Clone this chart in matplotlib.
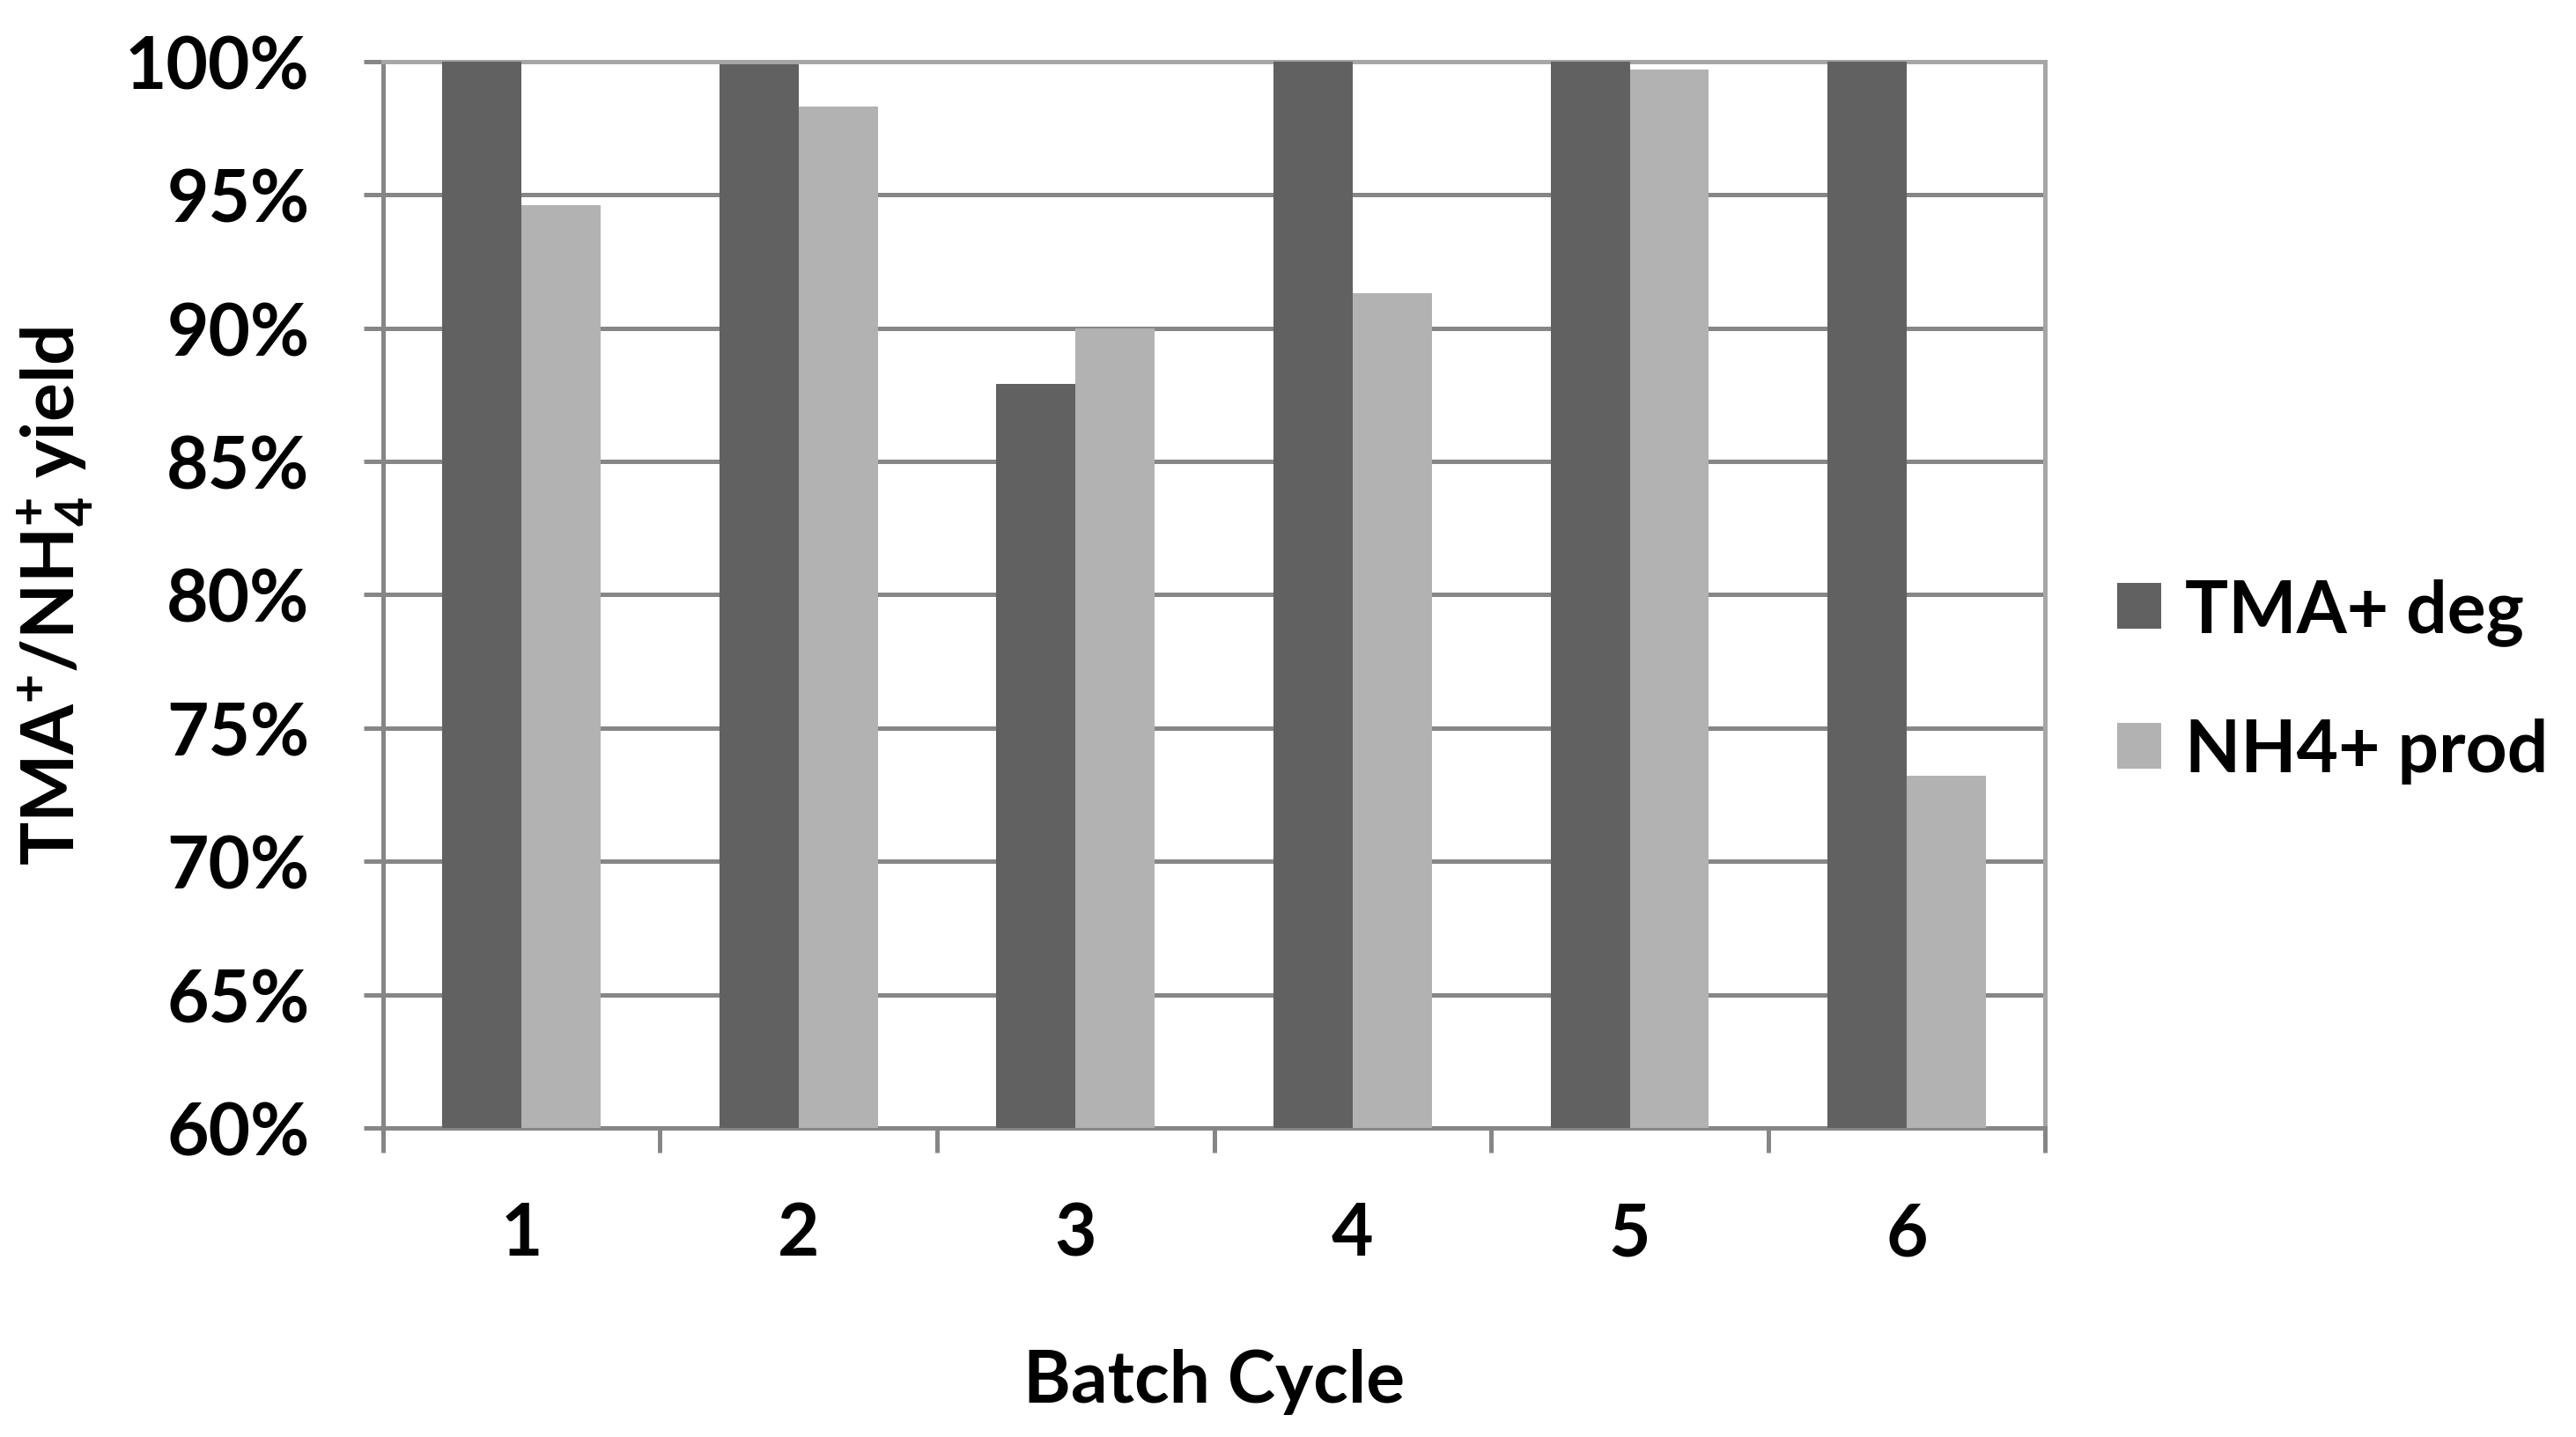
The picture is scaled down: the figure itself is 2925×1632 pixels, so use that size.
import numpy as np
import matplotlib.pyplot as plt
from matplotlib.ticker import FixedLocator, FuncFormatter

cycles = ['1', '2', '3', '4', '5', '6']
tma_deg = [100.0, 99.9, 87.9, 100.0, 100.0, 100.0]
nh4_prod = [94.6, 98.3, 90.0, 91.3, 99.7, 73.2]
y_ticks = [60, 65, 70, 75, 80, 85, 90, 95, 100]

plt.rcParams['font.family'] = ['Lato', 'DejaVu Sans']
plt.rcParams['font.weight'] = 'bold'
plt.rcParams['mathtext.fontset'] = 'custom'
plt.rcParams['mathtext.rm'] = 'Lato:bold'
plt.rcParams['mathtext.it'] = 'Lato:bold'
plt.rcParams['mathtext.bf'] = 'Lato:bold'

fs = 59
grid_col = '#868686'
frame_col = '#a6a6a6'

fig = plt.figure(figsize=(29.25, 16.33), dpi=100)
ax = fig.add_axes([0.1486, 0.2149, 0.6454, 0.7417])

x = np.arange(len(cycles))
w = 0.286
ax.bar(x - w / 2, tma_deg, w, color='#616161', label='TMA+ deg', zorder=3)
ax.bar(x + w / 2, nh4_prod, w, color='#b2b2b2', label='NH4+ prod', zorder=3)

ax.set_xlim(-0.5, len(cycles) - 0.5)
ax.set_ylim(60, 100)
ax.set_yticks(y_ticks)
ax.yaxis.set_major_formatter(FuncFormatter(lambda v, p: f'{v:.0f}%'))
ax.grid(axis='y', color=grid_col, linewidth=3.6, zorder=0)
ax.set_axisbelow(True)

ax.set_xticks(x)
ax.set_xticklabels(cycles)
ax.xaxis.set_minor_locator(FixedLocator(np.arange(-0.5, len(cycles), 1.0)))
ax.tick_params(axis='x', which='major', length=0, pad=60, labelsize=fs)
ax.tick_params(axis='x', which='minor', length=20, width=3.6, color=grid_col)
ax.tick_params(axis='y', length=16, width=3.6, color=grid_col, pad=44, labelsize=fs)

for s in ['top', 'right']:
    ax.spines[s].set_color(frame_col)
    ax.spines[s].set_linewidth(3.6)
for s in ['left', 'bottom']:
    ax.spines[s].set_color(grid_col)
    ax.spines[s].set_linewidth(3.6)

ax.set_xlabel('Batch Cycle', fontsize=fs, fontweight='bold', labelpad=66)
ax.set_ylabel(r'TMA$^{+}$/NH$_{4}^{+}$ yield', fontsize=fs, fontweight='bold', labelpad=24)

fig.legend(loc='center left', bbox_to_anchor=(0.822, 0.526), frameon=False,
           fontsize=fs, handlelength=0.6, handleheight=0.6, handletextpad=0.34,
           labelspacing=1.0, borderpad=0, borderaxespad=0)

fig.savefig('out.png', dpi=100, facecolor='white')
